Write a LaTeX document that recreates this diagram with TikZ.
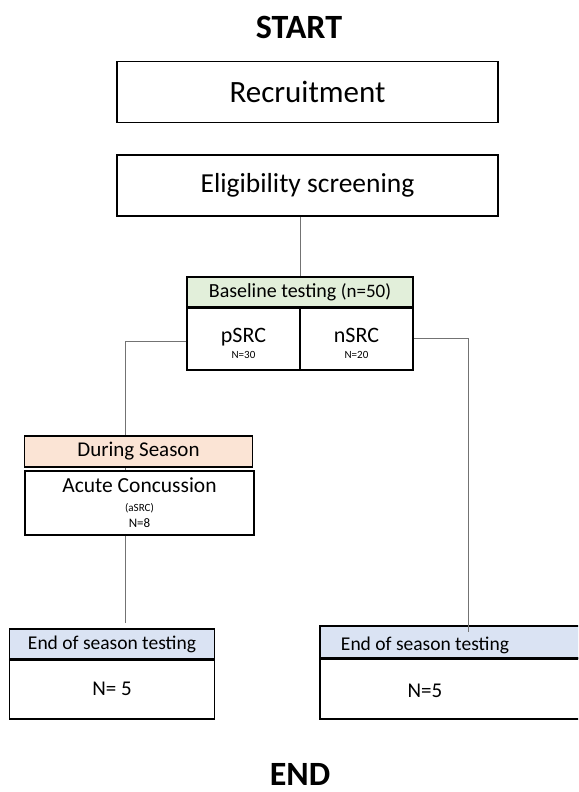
\documentclass[tikz,border=0pt]{standalone}
\usepackage{fontspec}
\setmainfont{Carlito}
\begin{document}
\begin{tikzpicture}[x=1pt,y=-1pt,
  box/.style={draw=black, line width=1.5pt, inner sep=0pt, rectangle},
  txt/.style={inner sep=0pt, anchor=base},
  conn/.style={draw=black!55, line width=0.9pt},
  title/.style={font=\fontsize{34}{38}\selectfont\bfseries, inner sep=0pt, anchor=base},
  hdgreen/.style={fill=hgreen},
  hdpeach/.style={fill=hpeach},
  hdblue/.style={fill=hblue}]
\definecolor{hgreen}{HTML}{E2EFDA}
\definecolor{hpeach}{HTML}{FBE4D5}
\definecolor{hblue}{HTML}{DAE3F3}
\useasboundingbox (0,0) rectangle (578,792);
\clip (0,0) rectangle (578,792);
\fill[white] (0,0) rectangle (578,792);

% titles
\node[title] (start) at (299,38) {START};
\node[title] (endt) at (300,785) {END};

% top boxes
\node[box, minimum width=381pt, minimum height=61pt, font=\fontsize{31}{34}\selectfont] (rec) at (307.5,92) {Recruitment};
\node[box, minimum width=381pt, minimum height=61pt, font=\fontsize{27.5}{30}\selectfont] (elig) at (307.5,185.5) {Eligibility screening};

% baseline
\node[box, hdgreen, minimum width=226pt, minimum height=31pt, font=\fontsize{20}{24}\selectfont] (base) at (300,292.5) {Baseline testing {\fontsize{19}{22}\selectfont(n=50)}};
\node[box, minimum width=113pt, minimum height=62pt] (psrc) at (243.5,339) {};
\node[box, minimum width=113pt, minimum height=62pt] (nsrc) at (356.5,339) {};
\draw[line width=2.5pt] (psrc.north west) -- (nsrc.north east);
\node[txt, font=\fontsize{22}{24}\selectfont] (psrct) at (243.5,342) {pSRC};
\node[txt, font=\fontsize{11}{13}\selectfont] (psrcn) at (243.5,358) {N=30};
\node[txt, font=\fontsize{22}{24}\selectfont] (nsrct) at (356.5,342) {nSRC};
\node[txt, font=\fontsize{11}{13}\selectfont] (nsrcn) at (356.5,358) {N=20};

% during season
\node[box, hdpeach, minimum width=228pt, minimum height=31pt, font=\fontsize{21}{24}\selectfont] (during) at (138.5,451.5) {During Season};
\node[box, minimum width=229pt, minimum height=64pt] (acute) at (139.5,503) {};
\node[txt, font=\fontsize{21.5}{24}\selectfont] (acutet) at (139.5,492) {Acute Concussion};
\node[txt, font=\fontsize{11}{13}\selectfont] (acutea) at (139.5,511) {(aSRC)};
\node[txt, font=\fontsize{13}{14}\selectfont] (acuten) at (139.5,527) {N=8};

% end of season left
\node[box, hdblue, minimum width=205pt, minimum height=30pt, font=\fontsize{19.5}{22}\selectfont] (endLh) at (112,644) {End of season testing};
\node[box, minimum width=205pt, minimum height=60pt, font=\fontsize{21}{22}\selectfont] (endLb) at (112,689) {N= 5};
\draw[line width=2.5pt] (endLh.south west) -- (endLh.south east);

% end of season right
\node[box, hdblue, minimum width=270pt, minimum height=32pt] (endRh) at (455,642) {};
\node[box, minimum width=270pt, minimum height=61pt] (endRb) at (455,688.5) {};
\draw[line width=2.5pt] (endRh.south west) -- (endRh.south east);
\node[txt, font=\fontsize{19.5}{22}\selectfont] (endRht) at (425,650) {End of season testing};
\node[txt, font=\fontsize{21}{22}\selectfont] (endRbt) at (425,697) {N=5};

% connectors
\coordinate (pl) at (125,341);
\coordinate (pr) at (468,338);
\coordinate (pld) at (125,623);
\coordinate (prd) at (468,632);
\draw[conn] (base.north |- elig.south) -- (base.north);
\draw[conn] (psrc.west |- pl) -- (pl) -- (pl |- during.north);
\draw[conn] (during.south -| pl) -- (acute.north -| pl);
\draw[conn] (acute.south -| pl) -- (pld);
\draw[conn] (nsrc.east |- pr) -- (pr) -- (prd);
\end{tikzpicture}
\end{document}
